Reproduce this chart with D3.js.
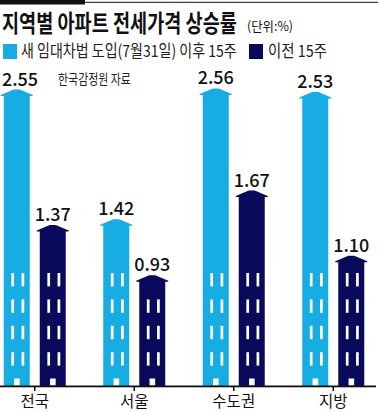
<!DOCTYPE html>
<html>
<head>
<meta charset="utf-8">
<script src="https://cdn.jsdelivr.net/npm/d3@7"></script>
<style>
  body { margin: 0; background: #fff; }
  text { font-family: "Noto Sans CJK KR", "Noto Sans", sans-serif; }
</style>
</head>
<body>
<script>
// data
const regions = ['전국', '서울', '수도권', '지방']
const seriesNames = ['새 임대차법 도입(7월31일) 이후 15주', '이전 15주']
const afterLaw = [2.55, 1.42, 2.56, 2.53]
const beforeLaw = [1.37, 0.93, 1.67, 1.10]
const valueLabels = [['2.55', '1.42', '2.56', '2.53'], ['1.37', '0.93', '1.67', '1.10']]

const colors = ['#17ade2', '#0a0a5c']
const width = 378, height = 412
const baseY = 386

const rows = []
regions.forEach((r, i) => {
  rows.push({region: r, s: 0, v: afterLaw[i], label: valueLabels[0][i]})
  rows.push({region: r, s: 1, v: beforeLaw[i], label: valueLabels[1][i]})
})

const svg = d3.select('body').append('svg')
  .attr('width', width)
  .attr('height', height)

// condensed text: squeeze horizontally to a measured width
function fitText(x, yy, str, size, w, weight) {
  const grp = svg.append('g')
  const t = grp.append('text')
    .attr('font-size', size)
    .attr('font-weight', weight || 400)
    .attr('fill', '#111')
    .text(str)
  const sx = w / t.node().getComputedTextLength()
  grp.attr('transform', `translate(${x}, ${yy}) scale(${sx}, 1)`)
  return t
}

// top rule
svg.append('rect').attr('x', 0).attr('y', 0).attr('width', 85).attr('height', 4.5).attr('fill', '#111')
svg.append('rect').attr('x', 85).attr('y', 1.8).attr('width', width - 85).attr('height', 1).attr('fill', '#111')

// title
fitText(2, 31.5, '지역별 아파트 전세가격 상승률', 23.5, 235, 700)
fitText(247, 30.5, '(단위:%)', 13, 46)

// legend
const legendX = [3, 249], legendTextX = [21, 268], legendW = [216, 59]
seriesNames.forEach((name, i) => {
  svg.append('rect')
    .attr('x', legendX[i]).attr('y', 44)
    .attr('width', 14).attr('height', 15)
    .attr('fill', colors[i])
  fitText(legendTextX[i], 57, name, 16.5, legendW[i]).attr('fill', '#222')
})

// source
fitText(58, 84, '한국감정원 자료', 13.5, 73).attr('fill', '#222')

// scales
const x0 = d3.scaleBand().domain(regions).range([-15, 383])
const x1 = d3.scaleBand().domain([0, 1]).range([0, 62]).paddingInner(0.278)
const y = d3.scaleLinear().domain([0, 3]).range([382, 38])
const bw = x1.bandwidth()
const barX = d => x0(d.region) + x0.bandwidth() / 2 - 31 + x1(d.s)

const g = svg.append('g')

// building bodies
g.selectAll('rect.bar').data(rows).join('rect')
  .attr('class', 'bar')
  .attr('x', barX)
  .attr('y', d => y(d.v) + 5.5)
  .attr('width', bw)
  .attr('height', d => baseY - y(d.v) - 5.5)
  .attr('fill', d => colors[d.s])

// roofs (arrow heads)
g.selectAll('path.roof').data(rows).join('path')
  .attr('class', 'roof')
  .attr('fill', d => colors[d.s])
  .attr('d', d => {
    const x = barX(d), t = y(d.v)
    return `M${x - 3},${t + 6.5} L${x - 3},${t + 5.5} L${x + bw / 2 - 3},${t} L${x + bw / 2 + 3},${t} L${x + bw + 3},${t + 5.5} L${x + bw + 3},${t + 6.5} Z`
  })

// windows: fixed floors measured up from the ground line
const floors = [0, 1, 2, 3]
const floorTop = f => baseY - 113 + f * 26.4
const windows = []
rows.forEach(d => {
  floors.forEach(f => {
    if (floorTop(f) > y(d.v) + 8) {
      windows.push({d: d, f: f, col: 0})
      windows.push({d: d, f: f, col: 1})
    }
  })
})
g.selectAll('rect.win').data(windows).join('rect')
  .attr('class', 'win')
  .attr('x', w => barX(w.d) + (w.col === 0 ? 7.6 : 17.8))
  .attr('y', w => floorTop(w.f))
  .attr('width', 2.7)
  .attr('height', 13.4)
  .attr('fill', '#fff')

// doors
g.selectAll('rect.door').data(rows).join('rect')
  .attr('class', 'door')
  .attr('x', d => barX(d) + 10.3)
  .attr('y', 378.5)
  .attr('width', 5.6)
  .attr('height', 7)
  .attr('fill', '#fff')

// value labels
g.selectAll('text.val').data(rows).join('text')
  .attr('class', 'val')
  .attr('x', d => Math.max(barX(d) + bw / 2, 20))
  .attr('y', d => y(d.v) - 4)
  .attr('text-anchor', 'middle')
  .attr('font-family', 'Roboto, sans-serif')
  .attr('font-weight', 500)
  .attr('font-size', 18)
  .attr('fill', '#111')
  .text(d => d.label)

// ground line + ticks
const xAxis = d3.axisBottom(x0).tickSize(5).tickPadding(4)
const ax = svg.append('g')
  .attr('transform', `translate(0, ${baseY})`)
  .call(xAxis)
ax.select('.domain').remove()
ax.selectAll('.tick line').attr('stroke', '#111').attr('stroke-width', 1.5)
ax.selectAll('.tick text')
  .attr('font-family', '"Noto Sans CJK KR", sans-serif')
  .attr('font-size', 15.5)
  .attr('fill', '#111')
  .attr('y', 20.5)
  .attr('dy', null)
svg.append('rect').attr('x', 0).attr('y', baseY - 0.5).attr('width', 376).attr('height', 1.8).attr('fill', '#111')
</script>
</body>
</html>
